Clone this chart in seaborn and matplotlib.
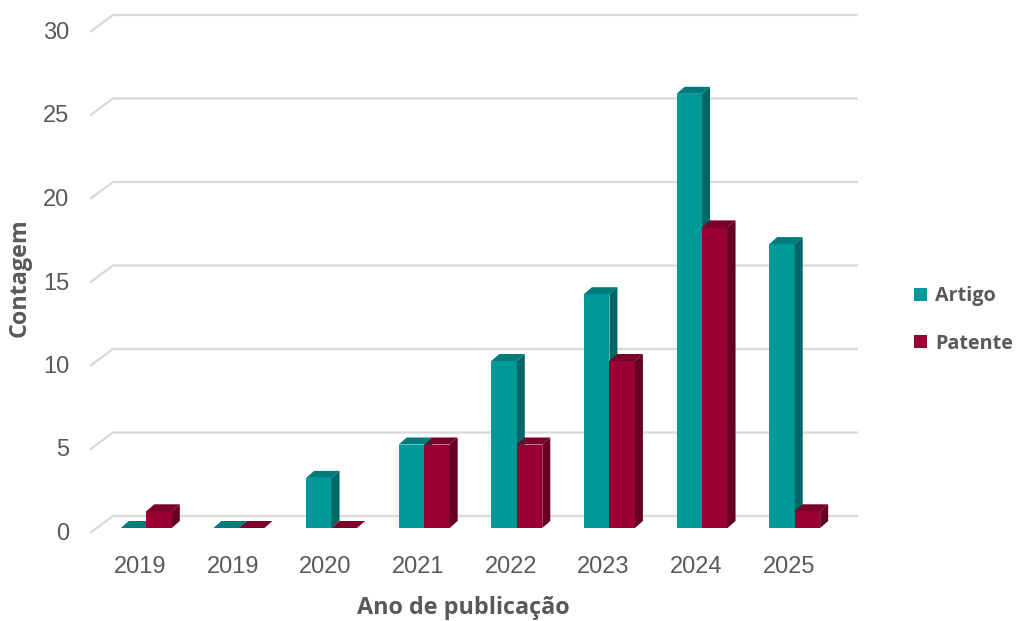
import numpy as np
import pandas as pd
import matplotlib
matplotlib.use("Agg")
import matplotlib.pyplot as plt
from matplotlib.patches import Polygon, Patch
from matplotlib.transforms import ScaledTranslation
import seaborn as sns

# Publication counts per year
anos = ["2019", "2019", "2020", "2021", "2022", "2023", "2024", "2025"]
artigo = [0, 0, 3, 5, 10, 14, 26, 17]
patente = [1, 0, 0, 5, 5, 10, 18, 1]
series = ["Artigo", "Patente"]
yticks = [0, 5, 10, 15, 20, 25, 30]

sns.set_theme(style="white")
plt.rcParams["font.family"] = ["Liberation Sans", "DejaVu Sans"]
title_font = ["Open Sans", "DejaVu Sans"]

text_color = "#595959"
front = {"Artigo": "#009999", "Patente": "#990033"}
side = {"Artigo": "#006666", "Patente": "#660022"}
top = {"Artigo": "#007b7b", "Patente": "#7a0029"}

pos = list(range(len(anos)))
df = pd.DataFrame({
    "pos": pos * 2,
    "valor": artigo + patente,
    "tipo": ["Artigo"] * len(anos) + ["Patente"] * len(anos),
})

W, H, DPI = 1018, 621, 100
fig = plt.figure(figsize=(W / DPI, H / DPI), dpi=DPI)
ax_l, ax_r, ax_b, ax_t = 100, 841, 528, 27  # pixel frame of the front plane
ax = fig.add_axes([ax_l / W, (H - ax_b) / H, (ax_r - ax_l) / W, (ax_b - ax_t) / H])

sns.barplot(data=df, x="pos", y="valor", hue="tipo", order=pos,
            hue_order=series, palette=front, width=0.55, saturation=1,
            legend=False, ax=ax, linewidth=0)
ax.set_xlim(-0.5, len(anos) - 0.5)
ax.set_ylim(0, 30)

# pixel -> data unit conversion for the depth effect
px_x = (len(anos)) / (ax_r - ax_l)
px_y = 30 / (ax_b - ax_t)
depth_dx, depth_dy = 8 * px_x, 7 * px_y

for bar in ax.patches[:]:
    x0, w, h = bar.get_x(), bar.get_width(), bar.get_height()
    color = bar.get_facecolor()
    name = "Artigo" if np.allclose(color[:3], matplotlib.colors.to_rgb(front["Artigo"])) else "Patente"
    z = 2 if name == "Artigo" else 3
    bar.set_zorder(z)
    x1 = x0 + w
    side_poly = [(x1, 0), (x1 + depth_dx, depth_dy), (x1 + depth_dx, h + depth_dy), (x1, h)]
    top_poly = [(x0, h), (x0 + depth_dx, h + depth_dy), (x1 + depth_dx, h + depth_dy), (x1, h)]
    ax.add_patch(Polygon(side_poly, closed=True, facecolor=side[name], edgecolor="none", zorder=z))
    ax.add_patch(Polygon(top_poly, closed=True, facecolor=top[name], edgecolor="none", zorder=z))

# back-wall gridlines with a slanted floor edge on the left
grid_x = [-10 * px_x, 13 * px_x, 17 * px_x]
drop, rise = 5 * px_y, 17 * px_y
for v in yticks:
    xs = [ax.get_xlim()[0] + grid_x[0], ax.get_xlim()[0] + grid_x[1], ax.get_xlim()[1] + grid_x[2]]
    ys = [v - drop, v - drop + rise, v - drop + rise]
    ax.plot(xs, ys, color="#d9d9d9", lw=1.6, zorder=1, clip_on=False, solid_capstyle="butt")

for s in ax.spines.values():
    s.set_visible(False)
ax.grid(False)
ax.set_facecolor("none")

ax.set_yticks(yticks)
ax.set_yticklabels([str(v) for v in yticks])
ax.set_xticks(pos)
ax.set_xticklabels(anos)
ax.tick_params(axis="both", length=0, labelsize=17, labelcolor=text_color)
ax.tick_params(axis="y", pad=22)
ax.tick_params(axis="x", pad=20)
for lab in ax.get_xticklabels():
    lab.set_transform(lab.get_transform() + ScaledTranslation(-0.06, 0, fig.dpi_scale_trans))
for lab in ax.get_yticklabels():
    lab.set_transform(lab.get_transform() + ScaledTranslation(0, -0.035, fig.dpi_scale_trans))

ax.set_xlabel("Ano de publicação", fontsize=16.8, fontweight="bold", color=text_color,
              labelpad=13, family=title_font)
ax.xaxis.label.set_x((463 - ax_l) / (ax_r - ax_l))
ax.set_ylabel("Contagem", fontsize=16.8, fontweight="bold", color=text_color,
              labelpad=8, family=title_font)

handles = [Patch(facecolor=front[s], edgecolor="none") for s in series]
leg = fig.legend(handles, series, loc="center left", bbox_to_anchor=(896 / W, (H - 320) / H),
                 frameon=False, handlelength=0.65, handleheight=0.65,
                 handletextpad=0.45, labelspacing=1.4,
                 prop={"family": title_font, "size": 14.2, "weight": "bold"})
for t in leg.get_texts():
    t.set_color(text_color)

fig.savefig("out.png", dpi=DPI)
